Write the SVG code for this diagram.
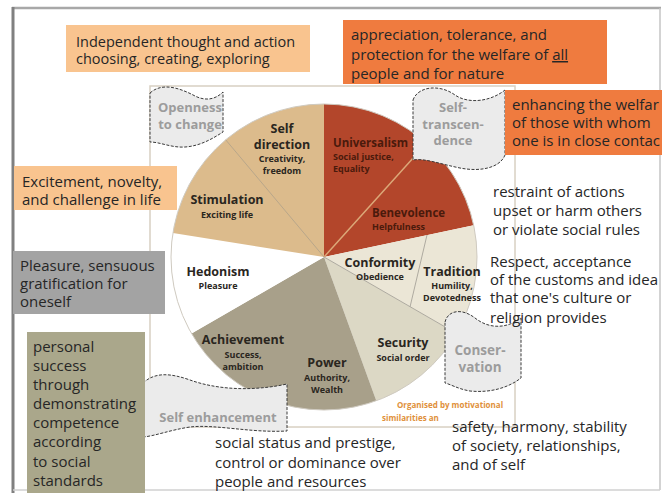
<svg xmlns="http://www.w3.org/2000/svg" width="662" height="493" viewBox="0 0 662 493">
<defs>
<style>
.t{font-family:"Open Sans","DejaVu Sans",sans-serif;font-size:15px;fill:#262626}
.lbl{font-family:"Open Sans","DejaVu Sans",sans-serif;font-weight:700;font-size:12.5px;fill:#2a261e;text-anchor:middle}
.sub{font-size:9px}
.red{fill:#4a1a0c;text-anchor:start}
.flag{fill:#ebebeb;stroke:#3a3a3a;stroke-width:1;stroke-dasharray:3 1.5}
.ft{font-family:"Open Sans","DejaVu Sans",sans-serif;font-weight:700;font-size:13px;fill:#9c9c9c;text-anchor:middle}
.org{font-family:"Open Sans","DejaVu Sans",sans-serif;font-weight:700;font-size:8px;fill:#e0903a}
</style>
</defs>
<rect width="662" height="493" fill="#ffffff"/>
<g id="frame" fill="none">
<line x1="12" y1="8" x2="661" y2="8" stroke="#a8a8a8" stroke-width="2.5"/>
<line x1="13" y1="7" x2="13" y2="493" stroke="#808080" stroke-width="3"/>
<line x1="660" y1="8" x2="660" y2="490" stroke="#c4c4c4" stroke-width="1.5"/>
<line x1="13" y1="490" x2="660" y2="490" stroke="#d0d0d0" stroke-width="1.5"/>
<rect x="150" y="86" width="365" height="341" stroke="#d8d0c2" stroke-width="1.5"/>
</g>
<g id="pie">
<path id="universalism-benevolence" d="M324,257 L324,104 A153,153 0 0 1 473.7,225.2 Z" fill="#b3462b"/>
<path id="conformity-tradition" d="M324,257 L473.7,225.2 A153,153 0 0 1 456.5,333.5 Z" fill="#ebe6d6"/>
<path id="security" d="M324,257 L456.5,333.5 A153,153 0 0 1 376.3,400.8 Z" fill="#dcd8c5"/>
<path id="achievement-power" d="M324,257 L376.3,400.8 A153,153 0 0 1 191.5,333.5 Z" fill="#a8a08a"/>
<path id="hedonism" d="M324,257 L191.5,333.5 A153,153 0 0 1 172.9,233.1 Z" fill="#ffffff"/>
<path id="stimulation-selfdirection" d="M324,257 L172.9,233.1 A153,153 0 0 1 324,104 Z" fill="#dcbb8c"/>
<circle cx="324" cy="257" r="153" fill="none" stroke="#cfcac0" stroke-width="1"/>
</g>
<g id="connectors" fill="none">
<line x1="324" y1="257" x2="426.4" y2="143.3" stroke="#dca878" stroke-width="1.5"/>
<line x1="324" y1="257" x2="225.7" y2="139.8" stroke="#b8a68a" stroke-width="1"/>
<line x1="324" y1="257" x2="456.5" y2="333.5" stroke="#aeaaa0" stroke-width="1"/>
<line x1="427" y1="235" x2="410" y2="307" stroke="#aeaaa0" stroke-width="1"/>
</g>
<g id="pie-labels">
<text class="lbl" x="282" y="133">Self</text>
<text class="lbl" x="282" y="149">direction</text>
<text class="lbl sub" x="282" y="162">Creativity,</text>
<text class="lbl sub" x="282" y="174">freedom</text>
<text class="lbl" x="227" y="204">Stimulation</text>
<text class="lbl sub" x="227" y="218">Exciting life</text>
<text class="lbl red" x="333" y="147" style="font-size:11.5px">Universalism</text>
<text class="lbl sub red" x="333" y="160">Social justice,</text>
<text class="lbl sub red" x="333" y="172">Equality</text>
<text class="lbl red" x="372" y="217" style="font-size:11.5px">Benevolence</text>
<text class="lbl sub red" x="372" y="230">Helpfulness</text>
<text class="lbl" x="380" y="267">Conformity</text>
<text class="lbl sub" x="380" y="280">Obedience</text>
<text class="lbl" x="452" y="276">Tradition</text>
<text class="lbl sub" x="452" y="289">Humility,</text>
<text class="lbl sub" x="452" y="301">Devotedness</text>
<text class="lbl" x="218" y="276">Hedonism</text>
<text class="lbl sub" x="218" y="289">Pleasure</text>
<text class="lbl" x="243" y="344">Achievement</text>
<text class="lbl sub" x="243" y="358">Success,</text>
<text class="lbl sub" x="243" y="370">ambition</text>
<text class="lbl" x="327" y="367">Power</text>
<text class="lbl sub" x="327" y="381">Authority,</text>
<text class="lbl sub" x="327" y="393">Wealth</text>
<text class="lbl" x="403" y="347">Security</text>
<text class="lbl sub" x="403" y="361">Social order</text>
</g>
<g id="flag-openness">
<path class="flag" d="M150,93 C162,82 180,88 195,96 C205,101 215,100 223,92 L223,132 C212,139 200,146 185,147 C172,148 160,142 150,142 Z"/>
<text class="ft" x="190" y="112">Openness</text>
<text class="ft" x="190" y="129">to change</text>
</g>
<g id="flag-selftranscendence">
<path class="flag" d="M413,100 C418,86 440,84 455,95 C468,104 490,102 505,90 L505,155 C500,168 480,172 460,168 C440,164 425,158 413,160 Z"/>
<text class="ft" x="453" y="112">Self-</text>
<text class="ft" x="453" y="129">transcen-</text>
<text class="ft" x="453" y="145">dence</text>
</g>
<g id="flag-conservation">
<path class="flag" d="M445,322 C448,310 462,308 475,318 C490,330 508,328 521,318 L521,378 C508,388 490,393 470,391 C458,389 450,384 445,383 Z"/>
<text class="ft" x="480" y="355" style="font-size:13.5px">Conser-</text>
<text class="ft" x="480" y="372" style="font-size:13.5px">vation</text>
</g>
<g id="flag-selfenhancement">
<path class="flag" d="M143,383 C155,372 170,373 190,380 C215,389 250,392 287,384 L287,431 C250,433 215,424 190,427 C170,430 155,436 143,437 Z"/>
<text class="ft" x="218" y="422">Self enhancement</text>
</g>
<g id="box-selfdirection">
<rect x="66" y="25" width="244" height="47" fill="#f9c48f"/>
<text class="t" x="76" y="47" style="font-size:14.5px">Independent thought and action</text>
<text class="t" x="76" y="64" style="font-size:14.5px">choosing, creating, exploring</text>
</g>
<g id="box-universalism">
<rect x="343" y="20" width="264" height="64" fill="#ef7b3f"/>
<text class="t" x="351" y="40">appreciation, tolerance, and</text>
<text class="t" x="351" y="60">protection for the welfare of <tspan text-decoration="underline">all</tspan></text>
<text class="t" x="351" y="79">people and for nature</text>
</g>
<g id="box-benevolence">
<rect x="505" y="90" width="157" height="65" fill="#ef7b3f"/>
<text class="t" x="512" y="110">enhancing the welfar</text>
<text class="t" x="512" y="128">of those with whom</text>
<text class="t" x="512" y="146">one is in close contac</text>
</g>
<g id="text-conformity">
<text class="t" x="493" y="197">restraint of actions</text>
<text class="t" x="493" y="216">upset or harm others</text>
<text class="t" x="493" y="235">or violate social rules</text>
</g>
<g id="text-tradition">
<text class="t" x="490" y="267">Respect, acceptance</text>
<text class="t" x="490" y="285">of the customs and idea</text>
<text class="t" x="490" y="303">that one's culture or</text>
<text class="t" x="490" y="323">religion provides</text>
</g>
<g id="box-stimulation">
<rect x="14" y="166" width="163" height="44" fill="#f9c48f"/>
<text class="t" x="22" y="187">Excitement, novelty,</text>
<text class="t" x="22" y="205">and challenge in life</text>
</g>
<g id="box-hedonism">
<rect x="13" y="251" width="152" height="63" fill="#a3a3a3"/>
<text class="t" x="20" y="271">Pleasure, sensuous</text>
<text class="t" x="20" y="289">gratification for</text>
<text class="t" x="20" y="307">oneself</text>
</g>
<g id="box-achievement">
<rect x="27" y="332" width="118" height="161" fill="#aaa78b"/>
<text class="t" x="33" y="352">personal</text>
<text class="t" x="33" y="371">success</text>
<text class="t" x="33" y="390">through</text>
<text class="t" x="33" y="409">demonstrating</text>
<text class="t" x="33" y="428">competence</text>
<text class="t" x="33" y="447">according</text>
<text class="t" x="33" y="467">to social</text>
<text class="t" x="33" y="486">standards</text>
</g>
<g id="text-power">
<text class="t" x="215" y="448">social status and prestige,</text>
<text class="t" x="215" y="468">control or dominance over</text>
<text class="t" x="215" y="487">people and resources</text>
</g>
<g id="text-security">
<text class="t" x="452" y="432">safety, harmony, stability</text>
<text class="t" x="452" y="451">of society, relationships,</text>
<text class="t" x="452" y="470">and of self</text>
</g>
<g id="note">
<text class="org" x="397" y="408">Organised by motivational</text>
<text class="org" x="382" y="421">similarities an</text>
</g>
</svg>
